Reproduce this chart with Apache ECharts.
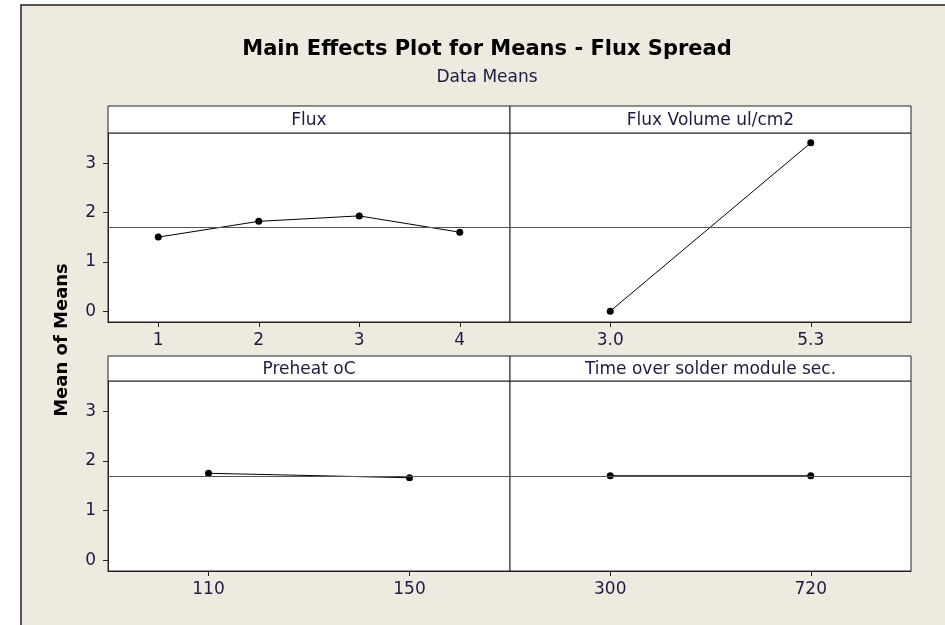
<!DOCTYPE html>
<html>
<head>
<meta charset="utf-8">
<script src="https://cdn.jsdelivr.net/npm/echarts@6/dist/echarts.min.js"></script>
<style>
html,body{margin:0;padding:0;background:#fff;}
#main{width:945px;height:625px;}
</style>
</head>
<body>
<div id="main"></div>
<script>
// main effects data
var fluxLevels = ['1', '2', '3', '4'];
var fluxMeans = [1.50, 1.82, 1.93, 1.60];
var volumeLevels = ['3.0', '5.3'];
var volumeMeans = [0.00, 3.41];
var preheatLevels = ['110', '150'];
var preheatMeans = [1.75, 1.66];
var timeLevels = ['300', '720'];
var timeMeans = [1.70, 1.70];
var grandMean = 1.70;
var yTicks = [0, 1, 2, 3];
var panelNames = ['Flux', 'Flux Volume ul/cm2', 'Preheat oC', 'Time over solder module sec.'];

var FONT = 'DejaVu Sans';
var TXT = '#1c1c40';

var myChart = echarts.init(document.getElementById('main'));

// panel boxes: [left, top(header), width, headerH, plotH]
var boxes = [
    [108, 106, 402, 27, 189],
    [510, 106, 401, 27, 189],
    [108, 356, 402, 25, 190],
    [510, 356, 401, 25, 190]
];
var levels = [fluxLevels, volumeLevels, preheatLevels, timeLevels];
var means = [fluxMeans, volumeMeans, preheatMeans, timeMeans];

var grids = [], xAxes = [], yAxes = [], series = [];
var graphics = [
    { type: 'rect', shape: { x: 21, y: 5, width: 930, height: 630 },
      style: { fill: '#eeeae0', stroke: '#222', lineWidth: 1.5 }, z: -10 },
    // titles
    { type: 'text', x: 487, y: 50,
      style: { text: 'Main Effects Plot for Means - Flux Spread', font: 'bold 21px "' + FONT + '"',
               fill: '#000', textAlign: 'center', textVerticalAlign: 'middle' } },
    { type: 'text', x: 487, y: 78,
      style: { text: 'Data Means', font: '17px "' + FONT + '"',
               fill: TXT, textAlign: 'center', textVerticalAlign: 'middle' } },
    { type: 'text', x: 62, y: 340, rotation: Math.PI / 2,
      style: { text: 'Mean of Means', font: 'bold 18px "' + FONT + '"', fill: '#000',
               textAlign: 'center', textVerticalAlign: 'middle' } }
];

for (let i = 0; i < 4; i++) {
    let b = boxes[i];
    grids.push({
        left: b[0], top: b[1] + b[3], width: b[2], height: b[4],
        show: true, backgroundColor: '#fff', borderColor: '#222', borderWidth: 1
    });
    graphics.push({
        type: 'rect', shape: { x: b[0], y: b[1], width: b[2], height: b[3] },
        style: { fill: '#fff', stroke: '#222', lineWidth: 1 }
    });
    graphics.push({
        type: 'text', x: b[0] + b[2] / 2, y: b[1] + b[3] / 2 + 1,
        style: { text: panelNames[i], font: '17px "' + FONT + '"', fill: TXT,
                 textAlign: 'center', textVerticalAlign: 'middle' }
    });
    xAxes.push({
        gridIndex: i, type: 'category', data: levels[i], boundaryGap: true,
        axisLine: { show: true, onZero: false, lineStyle: { color: '#222' } },
        axisTick: { show: true, alignWithLabel: true, length: 5, lineStyle: { color: '#222' } },
        axisLabel: { color: TXT, fontFamily: FONT, fontSize: 17, margin: 10 },
        splitLine: { show: false }
    });
    let left = (i % 2 === 0);
    yAxes.push({
        gridIndex: i, type: 'value', min: -0.22, max: 3.61,
        axisLine: { show: left, lineStyle: { color: '#222' } },
        axisTick: { show: left, length: 5, customValues: yTicks, lineStyle: { color: '#222' } },
        axisLabel: { show: left, customValues: yTicks, color: TXT, fontFamily: FONT, fontSize: 17, margin: 12 },
        splitLine: { show: false }
    });
    series.push({
        type: 'line', xAxisIndex: i, yAxisIndex: i, data: means[i],
        symbol: 'circle', symbolSize: 7, showSymbol: true,
        itemStyle: { color: '#000' },
        lineStyle: { color: '#000', width: 1 },
        animation: false,
        markLine: {
            silent: true, symbol: 'none', label: { show: false },
            lineStyle: { color: '#555', width: 1, type: 'solid' },
            data: [{ yAxis: grandMean }]
        },
        z: 3
    });
}

var option = {
    backgroundColor: '#fff',
    animation: false,
    grid: grids,
    xAxis: xAxes,
    yAxis: yAxes,
    series: series,
    graphic: graphics
};
myChart.setOption(option);
</script>
</body>
</html>
